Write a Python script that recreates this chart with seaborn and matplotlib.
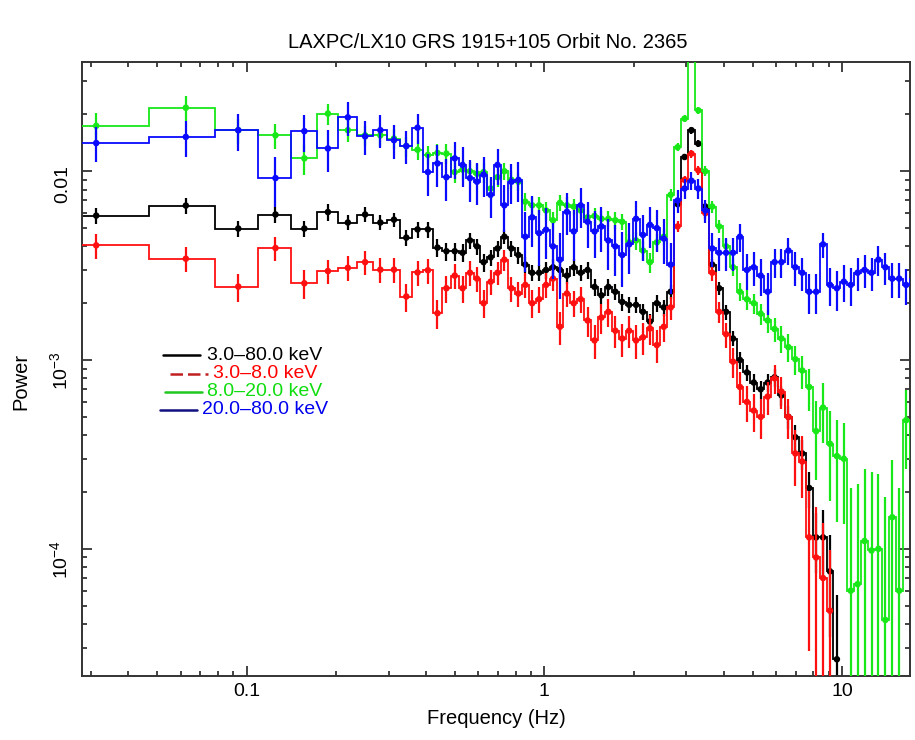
import numpy as np
import pandas as pd
import matplotlib
matplotlib.use("Agg")
import matplotlib.pyplot as plt
import seaborn as sns
from matplotlib.lines import Line2D
from matplotlib.ticker import FixedLocator, FixedFormatter, LogLocator, NullFormatter

nan = np.nan

# ---------------- data ----------------
freq = [0.03125, 0.0625, 0.09375, 0.125, 0.15625, 0.1875, 0.21875, 0.25, 0.28125, 0.3125,
        0.34375, 0.375, 0.40625, 0.4375, 0.46875, 0.5, 0.53125, 0.5625, 0.59375, 0.625,
        0.660, 0.696, 0.734, 0.775, 0.818, 0.863, 0.910, 0.960, 1.013, 1.069,
        1.128, 1.190, 1.255, 1.324, 1.397, 1.474, 1.555, 1.640, 1.731, 1.826,
        1.926, 2.032, 2.144, 2.262, 2.386, 2.518, 2.656, 2.802, 2.956, 3.119,
        3.290, 3.471, 3.662, 3.864, 4.076, 4.301, 4.537, 4.787, 5.050, 5.328,
        5.621, 5.930, 6.256, 6.600, 6.963, 7.346, 7.750, 8.177, 8.626, 9.101,
        9.601, 10.13, 10.69, 11.27, 11.89, 12.55, 13.24, 13.97, 14.73, 15.54,
        16.40, 17.30]

# 3.0-80.0 keV
power_all = [0.00582, 0.00658, 0.00497, 0.0059, 0.00497, 0.00608, 0.00535, 0.0059, 0.00535, 0.00554,
             0.00445, 0.00492, 0.00492, 0.00394, 0.00377, 0.00377, 0.0037, 0.0043, 0.0040, 0.0033,
             0.0035, 0.0039, 0.0045, 0.0039, 0.0036, 0.0032, 0.0029, 0.0029, 0.0030, 0.0031,
             0.0030, 0.0028, 0.0031, 0.0029, 0.0030, 0.00244, 0.0022, 0.00244, 0.0023, 0.00203,
             0.00196, 0.00196, 0.0018, 0.0016, 0.0020, 0.0019, 0.0023, 0.0067, 0.0119, 0.0165,
             0.0140, 0.0065, 0.0032, 0.0024, 0.0018, 0.0013, 0.00100, 0.00086, 0.00076, 0.00070,
             0.00076, 0.00081, 0.00065, 0.00050, 0.00039, 0.00032, 0.00021, 0.000115, 0.000115, 0.000076,
             0.000026, nan, nan, nan, nan, nan, nan, nan, nan, nan,
             nan, nan]
relerr_all = [0.10, 0.10, 0.10, 0.10, 0.10, 0.10, 0.09, 0.09, 0.09, 0.09,
              0.10, 0.10, 0.10, 0.11, 0.11, 0.11, 0.11, 0.10, 0.10, 0.11,
              0.10, 0.10, 0.09, 0.10, 0.10, 0.10, 0.10, 0.10, 0.10, 0.10,
              0.10, 0.10, 0.10, 0.10, 0.10, 0.10, 0.10, 0.10, 0.10, 0.10,
              0.10, 0.10, 0.10, 0.10, 0.10, 0.10, 0.08, 0.05, 0.04, 0.04,
              0.04, 0.05, 0.07, 0.08, 0.09, 0.09, 0.10, 0.10, 0.11, 0.11,
              0.11, 0.11, 0.12, 0.14, 0.16, 0.18, 0.22, 0.35, 0.40, 0.55,
              1.20, nan, nan, nan, nan, nan, nan, nan, nan, nan,
              nan, nan]

# 3.0-8.0 keV
power_soft = [0.00405, 0.00344, 0.00245, 0.00392, 0.00255, 0.00296, 0.00308, 0.0033, 0.00301, 0.00301,
              0.00217, 0.00291, 0.00299, 0.00177, 0.0024, 0.0028, 0.0024, 0.0029, 0.0027, 0.0020,
              0.0026, 0.0029, 0.0034, 0.0024, 0.00225, 0.0025, 0.0020, 0.0021, 0.0025, 0.0027,
              0.0015, 0.00225, 0.0020, 0.0021, 0.00162, 0.00127, 0.00168, 0.0018, 0.00143, 0.0013,
              0.00143, 0.00127, 0.00132, 0.00147, 0.0012, 0.0015, 0.0019, 0.0051, 0.0090, 0.0124,
              0.0101, 0.0060, 0.0029, 0.0018, 0.00137, 0.00098, 0.00072, 0.00060, 0.00054, 0.00050,
              0.00064, 0.00080, 0.00068, 0.00050, 0.00032, 0.00029, 0.000115, 0.00009, 0.00007, 0.000047,
              nan, nan, nan, nan, nan, nan, nan, nan, nan, nan,
              nan, nan]
relerr_soft = [0.15, 0.15, 0.17, 0.15, 0.17, 0.15, 0.15, 0.14, 0.15, 0.15,
               0.17, 0.15, 0.15, 0.18, 0.16, 0.15, 0.16, 0.15, 0.15, 0.17,
               0.15, 0.14, 0.13, 0.15, 0.15, 0.15, 0.17, 0.16, 0.15, 0.14,
               0.20, 0.15, 0.16, 0.16, 0.18, 0.20, 0.18, 0.17, 0.19, 0.20,
               0.19, 0.20, 0.19, 0.18, 0.20, 0.17, 0.14, 0.07, 0.05, 0.05,
               0.05, 0.07, 0.10, 0.13, 0.15, 0.18, 0.20, 0.22, 0.23, 0.24,
               0.20, 0.17, 0.19, 0.24, 0.33, 0.36, 0.75, 0.85, 0.95, 1.10,
               nan, nan, nan, nan, nan, nan, nan, nan, nan, nan,
               nan, nan]

# 8.0-20.0 keV
power_mid = [0.0174, 0.0217, 0.0165, 0.0155, 0.0117, 0.0202, 0.0165, 0.0155, 0.0155, 0.0149,
             0.0136, 0.0130, 0.0122, 0.0125, 0.0124, 0.0099, 0.0102, 0.0100, 0.0097, 0.0099,
             0.0081, 0.0093, 0.0100, 0.0090, 0.0088, 0.0069, 0.0066, 0.0066, 0.0062, 0.0055,
             0.0068, 0.0066, 0.0065, 0.0062, 0.0057, 0.0058, 0.0056, 0.0056, 0.0055, 0.0054,
             0.0042, 0.0043, 0.0038, 0.0033, 0.0042, 0.0045, 0.0075, 0.0134, 0.0190, 0.0400,
             0.0210, 0.0100, 0.0065, 0.0051, 0.0040, 0.0031, 0.0023, 0.0021, 0.0020, 0.00176,
             0.00162, 0.00146, 0.0013, 0.00117, 0.00101, 0.00088, 0.00072, 0.00042, 0.00056, 0.00036,
             0.00031, 0.00030, 0.00006, 0.000065, 0.00011, 0.000098, 0.0001, 0.000042, 0.000147, 0.00006,
             0.00048, 0.0003]
relerr_mid = [0.17, 0.15, 0.15, 0.15, 0.18, 0.13, 0.13, 0.12, 0.12, 0.12,
              0.12, 0.12, 0.12, 0.12, 0.12, 0.13, 0.12, 0.12, 0.12, 0.12,
              0.12, 0.11, 0.10, 0.11, 0.11, 0.11, 0.11, 0.11, 0.11, 0.11,
              0.10, 0.10, 0.10, 0.10, 0.10, 0.10, 0.10, 0.10, 0.10, 0.10,
              0.11, 0.11, 0.12, 0.12, 0.11, 0.10, 0.07, 0.05, 0.04, 0.03,
              0.04, 0.06, 0.07, 0.08, 0.09, 0.10, 0.11, 0.12, 0.12, 0.13,
              0.14, 0.15, 0.16, 0.17, 0.18, 0.20, 0.25, 0.45, 0.35, 0.50,
              0.55, 0.55, 2.50, 2.40, 1.40, 1.60, 1.50, 3.50, 1.00, 2.50,
              0.45, 0.70]

# 20.0-80.0 keV
power_hard = [0.0141, 0.0152, 0.0165, 0.0092, 0.0163, 0.0132, 0.0193, 0.0153, 0.0165, 0.0146,
              0.0136, 0.0170, 0.0099, 0.0110, 0.0093, 0.0117, 0.0108, 0.0092, 0.0088, 0.0096,
              0.0075, 0.0108, 0.0066, 0.0088, 0.0090, 0.0045, 0.0057, 0.0047, 0.0049, 0.0040,
              0.0034, 0.0061, 0.0048, 0.0066, 0.0054, 0.0048, 0.0051, 0.0043, 0.0040, 0.0036,
              0.0041, 0.0056, 0.0046, 0.0052, 0.0050, 0.0044, 0.0032, 0.0070, 0.0081, 0.0089,
              0.0081, 0.0062, 0.0039, 0.0037, 0.0037, 0.0037, 0.0045, 0.0030, 0.0031, 0.0028,
              0.0023, 0.0033, 0.0033, 0.0038, 0.0031, 0.0029, 0.0023, 0.0023, 0.0041, 0.0025,
              0.0024, 0.0026, 0.0025, 0.0029, 0.0030, 0.0029, 0.0034, 0.0031, 0.0027, 0.0027,
              0.0025, 0.0027]
relerr_hard = [0.21, 0.22, 0.22, 0.30, 0.22, 0.25, 0.20, 0.20, 0.20, 0.20,
               0.20, 0.18, 0.25, 0.25, 0.25, 0.22, 0.24, 0.25, 0.25, 0.24,
               0.25, 0.22, 0.28, 0.24, 0.24, 0.35, 0.30, 0.33, 0.30, 0.33,
               0.38, 0.25, 0.30, 0.24, 0.27, 0.28, 0.27, 0.30, 0.30, 0.32,
               0.30, 0.24, 0.27, 0.25, 0.25, 0.27, 0.30, 0.14, 0.12, 0.11,
               0.12, 0.14, 0.20, 0.20, 0.20, 0.20, 0.17, 0.22, 0.20, 0.22,
               0.25, 0.18, 0.18, 0.16, 0.20, 0.20, 0.24, 0.24, 0.15, 0.23,
               0.24, 0.22, 0.23, 0.20, 0.20, 0.20, 0.18, 0.19, 0.21, 0.21,
               0.22, 0.21]

bands = ["3.0–80.0 keV", "3.0–8.0 keV", "8.0–20.0 keV", "20.0–80.0 keV"]
powers = [power_all, power_soft, power_mid, power_hard]
relerrs = [relerr_all, relerr_soft, relerr_mid, relerr_hard]
colors = ["#000000", "#ff1010", "#18e818", "#0a0aff"]
legend_line_colors = ["#000000", "#c02020", "#20c820", "#101080"]
legend_text_colors = ["#000000", "#ff0000", "#10dd10", "#0000ee"]

title = "LAXPC/LX10 GRS 1915+105 Orbit No. 2365"
xlabel = "Frequency (Hz)"
ylabel = "Power"
xticks = [0.1, 1, 10]
xticklabels = ["0.1", "1", "10"]
yticks = [1e-4, 1e-3, 1e-2]
yticklabels = ["$10^{-4}$", "$10^{-3}$", "0.01"]

# ---------------- style ----------------
sns.set_theme(style="ticks")
plt.rcParams["font.family"] = ["Liberation Sans", "DejaVu Sans"]
plt.rcParams["mathtext.fontset"] = "custom"
plt.rcParams["mathtext.rm"] = "Liberation Sans"
plt.rcParams["mathtext.it"] = "Liberation Sans:italic"
plt.rcParams["mathtext.bf"] = "Liberation Sans:bold"

W, H = 915, 740
fig = plt.figure(figsize=(W / 100, H / 100), dpi=100)
fig.patch.set_facecolor("white")
L, R, T, B = 82, 910, 62, 676
ax = fig.add_axes([L / W, 1 - B / H, (R - L) / W, (B - T) / H])
ax.set_facecolor("white")

rows = []
for band, p, e in zip(bands, powers, relerrs):
    for f, pv, ev in zip(freq, p, e):
        if not np.isnan(pv):
            rows.append(dict(band=band, freq=f, power=pv, rel=ev))
df = pd.DataFrame(rows)

for i, (band, c) in enumerate(zip(bands, colors)):
    d = df[df["band"] == band]
    f = d["freq"].to_numpy()
    p = d["power"].to_numpy()
    s = p * d["rel"].to_numpy()
    mids = (f[1:] + f[:-1]) / 2
    edges = np.concatenate([[f[0] - (mids[0] - f[0])], mids, [f[-1] + (f[-1] - mids[-1])]])
    z = 2 + i
    ax.stairs(p, edges, baseline=None, color=c, lw=1.3, zorder=z)
    lo = p - np.maximum(p - s, 1e-8)
    ax.errorbar(f, p, yerr=[lo, s], fmt="none", ecolor=c, elinewidth=1.6, capsize=0, zorder=z)
    sns.scatterplot(x=f, y=p, color=c, s=22, edgecolor="none", ax=ax, zorder=z + 0.5, legend=False)

ax.set_xscale("log")
ax.set_yscale("log")
ax.set_xlim(0.028, 16.9)
ax.set_ylim(2.12e-5, 0.0379)

ax.xaxis.set_major_locator(FixedLocator(xticks))
ax.xaxis.set_major_formatter(FixedFormatter(xticklabels))
ax.xaxis.set_minor_locator(LogLocator(base=10, subs=np.arange(2, 10)))
ax.xaxis.set_minor_formatter(NullFormatter())
ax.yaxis.set_major_locator(FixedLocator(yticks))
ax.yaxis.set_major_formatter(FixedFormatter(yticklabels))
ax.yaxis.set_minor_locator(LogLocator(base=10, subs=np.arange(2, 10)))
ax.yaxis.set_minor_formatter(NullFormatter())

ax.tick_params(which="both", direction="in", top=True, right=True, color="#222222", width=1.2,
               labelsize=14, labelcolor="black")
ax.tick_params(which="major", length=7)
ax.tick_params(which="minor", length=3.6)
ax.tick_params(axis="y", labelrotation=90, pad=8)
ax.tick_params(axis="x", pad=5)
for sp in ax.spines.values():
    sp.set_linewidth(1.4)
    sp.set_color("#333333")

ax.set_xlabel(xlabel, fontsize=14.5, color="black", va="center")
ax.xaxis.set_label_coords(0.5, -(718 - B) / (B - T))
ax.set_ylabel(ylabel, fontsize=14.5, color="black", va="center")
ax.yaxis.set_label_coords(-(L - 21) / (R - L), (B - 381) / (B - T))
fig.text(488 / W, 1 - 42 / H, title, ha="center", va="center", fontsize=14.5, color="black")

# legend (PGPLOT-like: short line + coloured text)
leg_rows = [(355, 163, 200, 207), (374, 170, 208, 213), (392, 165, 202, 207), (410, 160, 197, 202)]
leg_styles = ["-", (0, (5, 2)), "-", "-"]
for (yy, x0, x1, xt), band, lc, tc, ls in zip(leg_rows, bands, legend_line_colors, legend_text_colors, leg_styles):
    fig.add_artist(Line2D([x0 / W, x1 / W], [1 - yy / H, 1 - yy / H], transform=fig.transFigure,
                          color=lc, lw=1.8, linestyle=ls))
    fig.text(xt / W, 1 - yy / H, band, ha="left", va="center", fontsize=14, color=tc)

fig.savefig("out.png", dpi=100, facecolor="white")
